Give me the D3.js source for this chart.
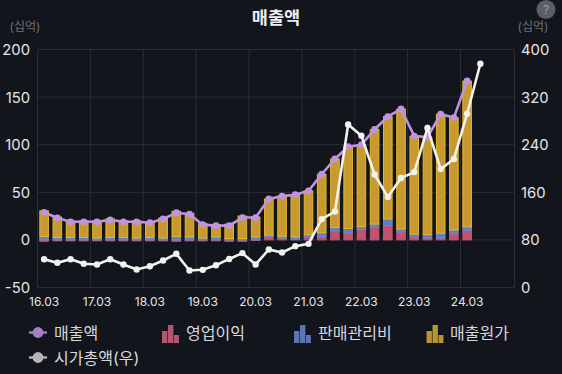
<!DOCTYPE html>
<html><head><meta charset="utf-8">
<script src="https://cdn.jsdelivr.net/npm/d3@7"></script>
<style>html,body{margin:0;background:#12151c}svg{display:block}text{font-family:Inter,"Noto Sans CJK KR","Noto Sans",sans-serif}</style>
</head><body><div id="c"></div>
<script>
const categories=["16.03","16.06","16.09","16.12","17.03","17.06","17.09","17.12","18.03","18.06","18.09","18.12","19.03","19.06","19.09","19.12","20.03","20.06","20.09","20.12","21.03","21.06","21.09","21.12","22.03","22.06","22.09","22.12","23.03","23.06","23.09","23.12","24.03","24.06","24.09","24.12"];
const tickLabels=["16.03","17.03","18.03","19.03","20.03","21.03","22.03","23.03","24.03"];
const revenue=[29,23,19,19,19,21,19,19,18,22,28.5,27,16,15,15,23.5,23.5,43,46,47.5,51.5,69,85,98,100,116,129.5,137.5,109,108,132,128.5,167];
const opProfit=[-1.5,-1,-1,-1,-1,-1,-1,-1,-1,-1,-1.5,-1,-1,-1,-1.5,-1.5,-0.5,3,1.7,0,2.5,3.5,9.5,8,11,13.6,15,8.4,3,2,2,6.6,10];
const sga=[3.5,2.5,2.5,2.5,2,2.5,2.5,2,2.5,2,3.5,3,2,3,1.5,1.5,3,2,2,3,2.8,4,3.5,4,3,3,7,3,3,3.5,5,3.8,3.8];
const cogs=[27,21.5,17.5,17.5,18,19.5,17.5,18,16.5,21,26.5,25,15,13,15,23.5,21,38,42.3,44.5,46.2,61.5,72,86,86,99.4,107.5,126,103,102.5,125,118,153];
const marketCap=[47.6,41.5,47.6,39.8,38.7,47.6,38.7,30.3,35.8,45.4,56.6,28.6,29.7,37.5,48,57.7,38.7,63.9,58.8,69.5,73.4,115,127.7,274,255,190,152,184,194,268,199,216,292,376];
const leftTicks=[-50,0,50,100,150,200];
const rightTicks=[0,80,160,240,320,400];
const unitLabel="(십억)",chartTitle="매출액";
const legendRows=[["매출액","line","#a77fc4"],["영업이익","bar","#b5566f"],["판매관리비","bar","#5a76b0"],["매출원가","bar","#b8952f"],["시가총액(우)","line","#b5b5b8"]];

const W=562,H=374,svg=d3.select("#c").append("svg").attr("width",W).attr("height",H);
svg.append("rect").attr("width",W).attr("height",H).attr("fill","#12151c");
const L=37.5,R=514.5,T=49.5,B=287.5;
const x=d3.scaleBand().domain(categories).range([L,513.4]);
const y=d3.scaleLinear().domain([-50,200]).range([B,T]);
const y2=d3.scaleLinear().domain([0,400]).range([B,T]);
const grid="#2b2e36";
svg.append("g").selectAll("line").data(leftTicks).join("line").attr("x1",L).attr("x2",R).attr("y1",d=>y(d)).attr("y2",d=>y(d)).attr("stroke",grid);
svg.append("g").selectAll("line").data(tickLabels.concat(["end"])).join("line")
 .attr("x1",d=>d==="end"?R:x(d)).attr("x2",d=>d==="end"?R:x(d)).attr("y1",T).attr("y2",B).attr("stroke",grid);
const bw=8.6;
function bars(vals,base,fill,stroke){
 svg.append("g").selectAll("rect").data(vals).join("rect")
  .attr("x",(d,i)=>x(categories[i])+x.bandwidth()/2-bw/2)
  .attr("width",bw)
  .attr("y",(d,i)=>{const b=base?base[i]:0;return Math.min(y(b),y(b+d));})
  .attr("height",(d,i)=>{const b=base?base[i]:0;return Math.abs(y(b)-y(b+d));})
  .attr("fill",fill).attr("stroke",stroke||"none").attr("stroke-width",stroke?1:0);
}
const posOp=opProfit.map(v=>Math.max(v,0));
bars(opProfit,null,"#c1536f","#c1536f");
bars(sga,posOp,"#5f7fc4","#6a8ad0");
bars(cogs,posOp.map((v,i)=>v+sga[i]),"#c79a30","#e8b62e");
const cx=i=>x(categories[i])+x.bandwidth()/2;
function series(vals,scale,color,r){
 svg.append("path").attr("d",d3.line().x((d,i)=>cx(i)).y(d=>scale(d))(vals)).attr("fill","none").attr("stroke",color).attr("stroke-width",2.6);
 svg.append("g").selectAll("circle").data(vals).join("circle").attr("cx",(d,i)=>cx(i)).attr("cy",d=>scale(d)).attr("r",r).attr("fill",color);
}
series(revenue,y,"#bf93e0",3.4);
series(marketCap,y2,"#f1f1ee",3.2);
const tc="#e4e5e8";
svg.append("g").selectAll("text").data(leftTicks).join("text").attr("x",30).attr("y",d=>y(d)+5.5).attr("text-anchor","end").attr("font-size",14.8).attr("fill",tc).text(d=>d);
svg.append("g").selectAll("text").data(rightTicks).join("text").attr("x",521).attr("y",d=>y2(d)+5.5).attr("font-size",14.8).attr("fill",tc).text(d=>d);
svg.append("g").selectAll("text").data(tickLabels).join("text").attr("x",d=>x(d)+x.bandwidth()/2).attr("y",306).attr("text-anchor","middle").attr("font-size",12).attr("fill",tc).text(d=>d);
svg.append("text").attr("x",25).attr("y",31).attr("text-anchor","middle").attr("font-size",12).attr("fill","#6d7078").text(unitLabel);
svg.append("text").attr("x",533).attr("y",31).attr("text-anchor","middle").attr("font-size",12).attr("fill","#6d7078").text(unitLabel);
svg.append("text").attr("x",276).attr("y",24).attr("text-anchor","middle").attr("font-size",17.5).attr("font-weight",700).attr("fill","#eceded").text(chartTitle);
svg.append("circle").attr("cx",546).attr("cy",9.5).attr("r",9.5).attr("fill","#5a5e68");
svg.append("text").attr("x",546).attr("y",14).attr("text-anchor","middle").attr("font-size",12).attr("fill","#9a9da4").text("?");
const lx=[[29,333,54],[162,333,186],[294,333,318],[426.5,333,450],[29,358,54]];
legendRows.forEach((r,i)=>{
 const [a,c,tx]=lx[i],g=svg.append("g");
 if(r[1]==="line"){
  g.append("line").attr("x1",a).attr("x2",a+18).attr("y1",c-0.5).attr("y2",c-0.5).attr("stroke",r[2]).attr("stroke-width",2.4);
  g.append("circle").attr("cx",a+9).attr("cy",c-0.5).attr("r",5.4).attr("fill",r[2]);
 } else {
  [[a,12,6],[a+6,18,6],[a+12,8,5.5]].forEach(p=>g.append("rect").attr("x",p[0]).attr("y",c+10-p[1]).attr("width",p[2]-0.6).attr("height",p[1]).attr("fill",r[2]));
 }
 g.append("text").attr("x",tx).attr("y",c+5.5).attr("font-size",16).attr("fill","#d8d9dc").text(r[0]);
});
</script></body></html>
